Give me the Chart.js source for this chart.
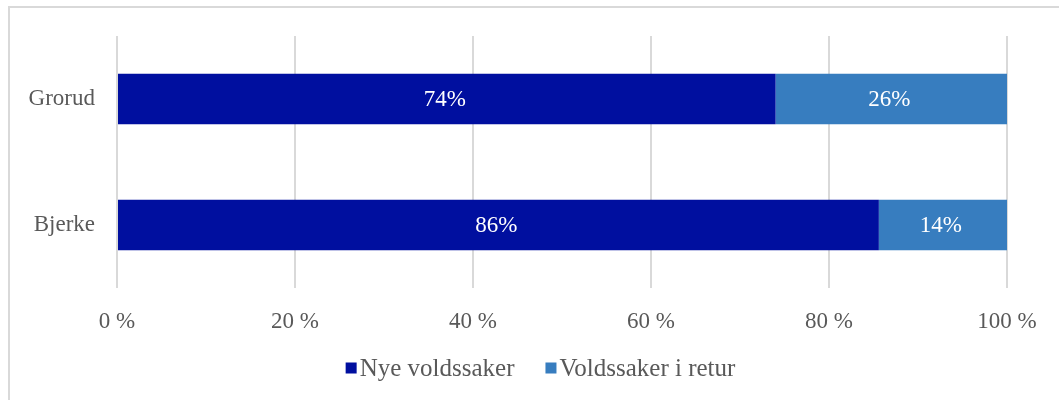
<!DOCTYPE html>
<html>
<head>
<meta charset="utf-8">
<script src="https://cdn.jsdelivr.net/npm/chart.js@4"></script>
<style>
  body { margin: 0; background: #fff; overflow: hidden; }
  #frame { position: absolute; left: 8px; top: 6px; width: 1100px; height: 500px; border: 2px solid #d9d9d9; }
  #wrap { position: absolute; left: 0; top: 0; width: 1059px; height: 400px; }
</style>
</head>
<body>
<div id="frame"></div>
<div id="wrap"><canvas id="chart" width="1059" height="400"></canvas></div>
<script>
const categories = ['Grorud', 'Bjerke'];
const nyeVoldssaker = [74, 85.6];
const voldssakerRetur = [26, 14.4];
const xTicks = [0, 20, 40, 60, 80, 100];

const serif = "'Liberation Serif', 'Times New Roman', serif";
const fontSize = 23;

// draws the percent labels in the middle of each bar
const barLabels = {
    id: 'barLabels',
    afterDatasetsDraw(chart) {
        const ctx = chart.ctx;
        ctx.save();
        ctx.fillStyle = '#ffffff';
        ctx.font = fontSize + 'px ' + serif;
        ctx.textAlign = 'center';
        ctx.textBaseline = 'middle';
        chart.data.datasets.forEach(function (ds, i) {
            chart.getDatasetMeta(i).data.forEach(function (bar, j) {
                const p = bar.getCenterPoint();
                ctx.fillText(Math.round(ds.data[j]) + '%', p.x - 2, p.y + 1);
            });
        });
        ctx.restore();
    }
};

// legend drawn by hand so the square sits tight against its text
const tightLegend = {
    id: 'tightLegend',
    afterDraw(chart) {
        const ctx = chart.ctx;
        const box = 11, gap = 3, spacing = 31;
        ctx.save();
        ctx.font = '25px ' + serif;
        ctx.textBaseline = 'middle';
        const items = chart.data.datasets.map(function (ds) {
            return { text: ds.label, color: ds.backgroundColor, w: ctx.measureText(ds.label).width };
        });
        let total = 0;
        items.forEach(function (it, i) { total += box + gap + it.w + (i ? spacing : 0); });
        let x = chart.width / 2 + 11 - total / 2;
        const y = 368;
        items.forEach(function (it) {
            ctx.fillStyle = it.color;
            ctx.fillRect(x, y - box / 2, box, box);
            ctx.fillStyle = '#595959';
            ctx.fillText(it.text, x + box + gap, y + 1);
            x += box + gap + it.w + spacing;
        });
        ctx.restore();
    }
};

new Chart(document.getElementById('chart'), {
    type: 'bar',
    data: {
        labels: categories,
        datasets: [{
            label: 'Nye voldssaker',
            data: nyeVoldssaker,
            backgroundColor: '#000F9F',
            categoryPercentage: 0.4,
            barPercentage: 1
        }, {
            label: 'Voldssaker i retur',
            data: voldssakerRetur,
            backgroundColor: '#377DBF',
            categoryPercentage: 0.4,
            barPercentage: 1
        }]
    },
    options: {
        indexAxis: 'y',
        responsive: false,
        animation: false,
        devicePixelRatio: 1,
        layout: { padding: { top: 36, right: 52, bottom: 52, left: 0 } },
        scales: {
            x: {
                stacked: true,
                min: 0,
                max: 100,
                afterBuildTicks: function (scale) {
                    scale.ticks = xTicks.map(function (v) { return { value: v }; });
                },
                afterFit: function (scale) { scale.height = 60; },
                grid: { color: '#d9d9d9', lineWidth: 2, drawTicks: false },
                border: { display: false },
                ticks: {
                    padding: 20,
                    maxRotation: 0,
                    color: '#595959',
                    font: { family: serif, size: fontSize },
                    callback: function (v) { return v + ' %'; }
                }
            },
            y: {
                stacked: true,
                afterFit: function (scale) { scale.width = 117; },
                grid: { display: false },
                border: { display: false },
                ticks: {
                    padding: 14,
                    color: '#595959',
                    font: { family: serif, size: fontSize }
                }
            }
        },
        plugins: {
            legend: { display: false },
            tooltip: { enabled: false }
        }
    },
    plugins: [barLabels, tightLegend]
});
</script>
</body>
</html>
